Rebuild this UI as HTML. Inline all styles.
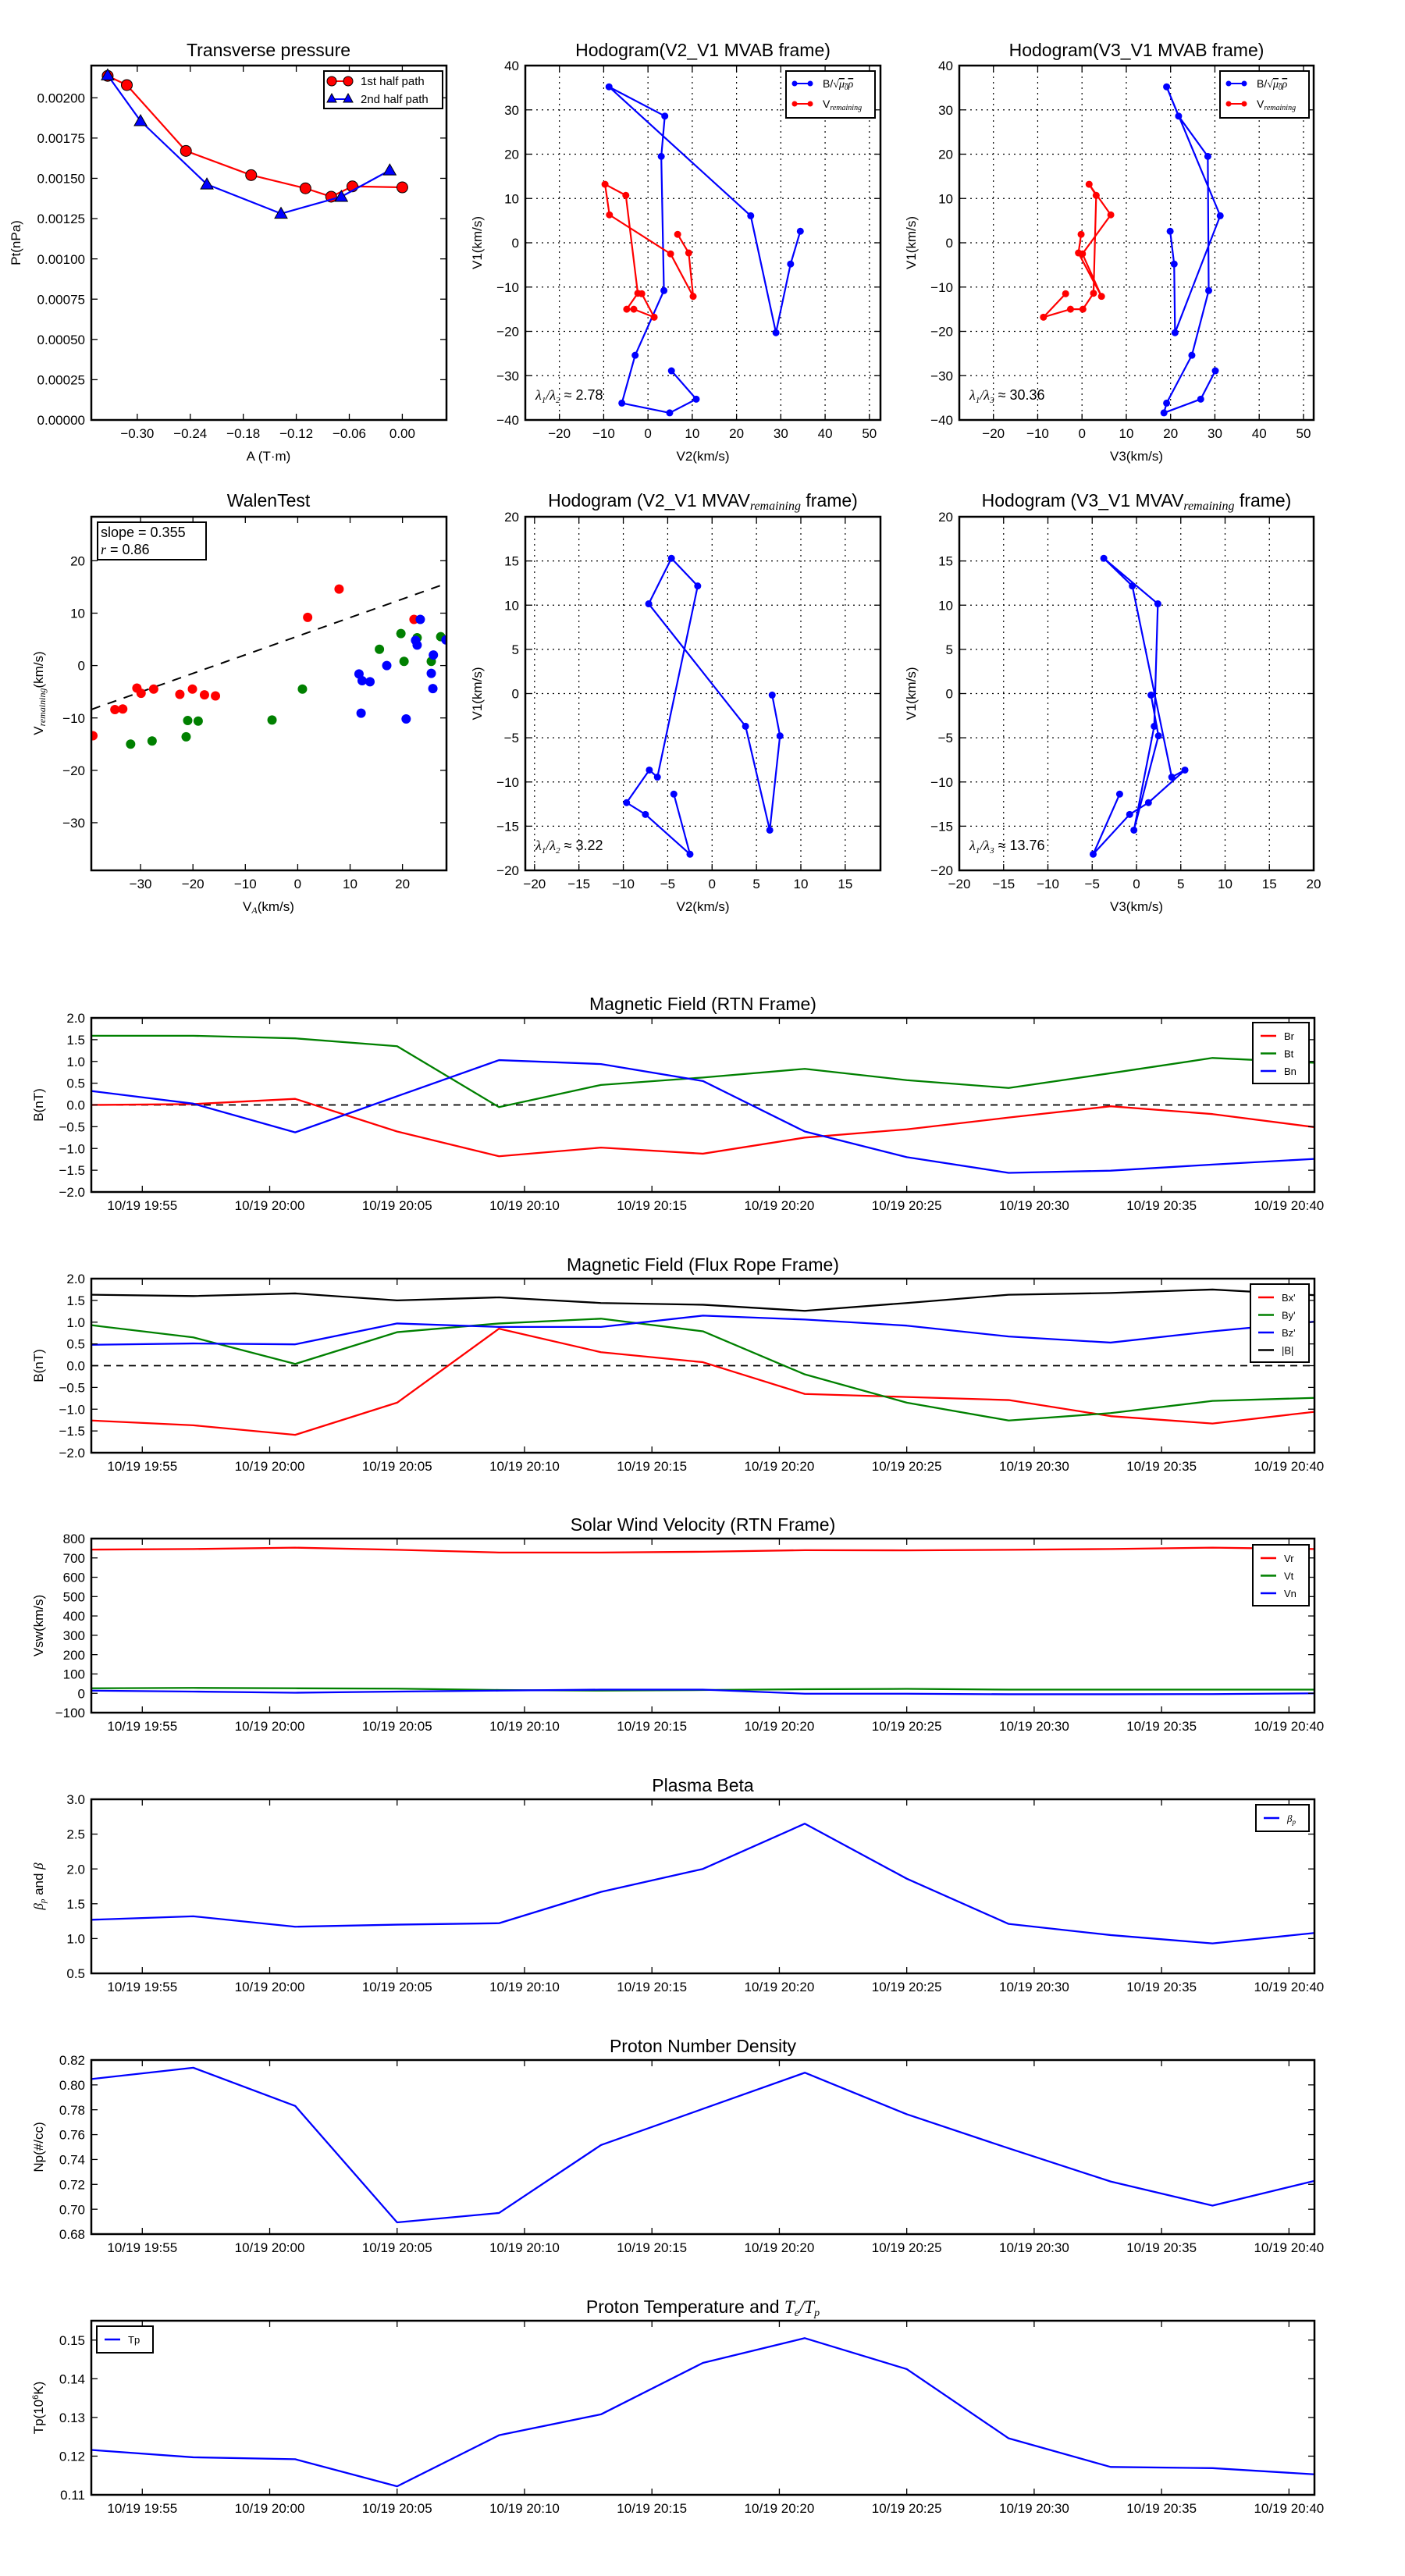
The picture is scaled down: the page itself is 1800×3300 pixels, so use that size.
<!DOCTYPE html>
<html><head><meta charset="utf-8"><title>Flux rope analysis</title>
<style>
html,body{margin:0;padding:0;background:#fff;}
svg{display:block;font-family:"Liberation Sans","DejaVu Sans",sans-serif;}
</style></head>
<body>
<svg id="fig" width="1800" height="3300" viewBox="0 0 1800 3300" xmlns="http://www.w3.org/2000/svg"></svg>
<script>
// ---------- DATA ----------
// Transverse pressure
const ptA1 = [-0.3335,-0.3118,-0.2449,-0.1711,-0.1096,-0.0805,-0.0565,0.0];
const ptP1 = [0.002136,0.002079,0.00167,0.00152,0.001438,0.001386,0.00145,0.001444];
const ptA2 = [-0.3335,-0.2963,-0.2212,-0.1373,-0.069,-0.0142];
const ptP2 = [0.00214,0.001856,0.001463,0.001281,0.001386,0.00155];
// Hodogram MVAB (B/sqrt(mu0 rho))
const hbV1 = [2.6,-4.8,-20.3,6.1,35.2,28.6,19.5,-10.8,-25.4,-36.2,-38.4,-35.3,-28.9];
const hbV2 = [34.4,32.2,28.9,23.2,-8.8,3.8,3.0,3.6,-2.9,-5.9,4.9,10.9,5.3];
const hbV3 = [19.9,20.8,21.0,31.2,19.1,21.8,28.4,28.6,24.8,19.1,18.5,26.8,30.1];
// Hodogram MVAB (V remaining)
const hrV1 = [1.9,-2.3,-12.1,-2.5,6.3,13.2,10.7,-11.4,-15.0,-15.0,-16.8,-11.5];
const hrV2 = [6.7,9.2,10.2,5.1,-8.7,-9.7,-5.0,-2.3,-4.8,-3.2,1.4,-1.4];
const hrV3 = [-0.2,-0.8,4.4,0.1,6.5,1.6,3.2,2.6,0.2,-2.6,-8.7,-3.7];
// Hodogram MVAV remaining
const hmV1 = [-0.17,-4.78,-15.45,-3.7,10.15,15.3,12.17,-9.45,-8.65,-12.34,-13.67,-18.17,-11.37];
const hmV2 = [6.77,7.65,6.5,3.77,-7.14,-4.58,-1.62,-6.16,-7.07,-9.63,-7.51,-2.49,-4.31];
const hmV3 = [1.64,2.48,-0.29,2.0,2.41,-3.69,-0.47,3.98,5.47,1.35,-0.77,-4.89,-1.9];
// Walen test
const wRedX = [-39.1,-34.9,-33.4,-30.7,-29.9,-27.5,-22.5,-20.1,-17.8,-15.7,1.9,7.9,22.2];
const wRedY = [-13.4,-8.4,-8.3,-4.3,-5.3,-4.5,-5.5,-4.5,-5.6,-5.8,9.2,14.6,8.8];
const wGreenX = [-31.9,-27.8,-21.3,-21.0,-19.0,-4.9,0.9,15.6,19.7,20.3,22.8,25.5,27.3];
const wGreenY = [-15.0,-14.4,-13.6,-10.5,-10.6,-10.4,-4.5,3.1,6.1,0.8,5.3,0.8,5.5];
const wBlueX = [11.7,12.3,13.8,12.1,17.0,20.7,22.5,22.8,23.4,25.9,25.5,25.8,28.3];
const wBlueY = [-1.6,-2.9,-3.1,-9.1,0.0,-10.2,4.8,3.9,8.8,2.0,-1.5,-4.4,4.9];
const wSlope = [0.355];
const wIntercept = [5.6];
// Time series (minutes after 19:53)
const tMin = [0,4,8,12,16,20,24,28,32,36,40,44,48];
const tickMin = [2,7,12,17,22,27,32,37,42,47];
const tickLab = ['10/19 19:55','10/19 20:00','10/19 20:05','10/19 20:10','10/19 20:15','10/19 20:20','10/19 20:25','10/19 20:30','10/19 20:35','10/19 20:40'];
const Br = [0.0,0.02,0.14,-0.61,-1.18,-0.98,-1.12,-0.75,-0.56,-0.29,-0.03,-0.21,-0.51];
const Bt = [1.59,1.59,1.53,1.35,-0.05,0.46,0.63,0.83,0.57,0.39,0.73,1.08,0.97];
const Bn = [0.32,0.03,-0.63,0.2,1.03,0.94,0.55,-0.61,-1.2,-1.56,-1.51,-1.37,-1.24];
const Bxp = [-1.26,-1.37,-1.59,-0.85,0.85,0.31,0.08,-0.65,-0.72,-0.79,-1.16,-1.33,-1.06];
const Byp = [0.93,0.65,0.04,0.77,0.97,1.08,0.79,-0.2,-0.85,-1.26,-1.09,-0.81,-0.74];
const Bzp = [0.48,0.51,0.49,0.97,0.89,0.89,1.15,1.06,0.92,0.67,0.53,0.79,1.01];
const Bmag = [1.63,1.6,1.66,1.5,1.57,1.44,1.4,1.26,1.44,1.63,1.67,1.75,1.62];
const Vr = [743,746,753,742,728,728,732,740,739,742,746,753,746];
const Vt = [26,28,26,24,17,14,17,21,23,19,19,19,19];
const Vn = [14,9,3,9,14,19,19,-2,-2,-5,-5,-4,0];
const beta = [1.27,1.32,1.17,1.2,1.22,1.67,2.0,2.65,1.86,1.21,1.05,0.93,1.08];
const Np = [0.8047,0.8138,0.7831,0.6894,0.697,0.7516,0.7807,0.8098,0.7764,0.749,0.7223,0.7029,0.7228];
const Tp = [0.1216,0.1197,0.1192,0.1122,0.1254,0.1308,0.1441,0.1505,0.1425,0.1246,0.1172,0.1169,0.1153];

// ---------- HELPERS ----------
const NS='http://www.w3.org/2000/svg';
const svg=document.getElementById('fig');
function mk(tag,attrs,parent){const e=document.createElementNS(NS,tag);for(const k in attrs)e.setAttribute(k,attrs[k]);(parent||svg).appendChild(e);return e;}
function fmtMinus(s){return s.replace('-','\u2212');}
function scale(d0,d1,r0,r1){return v=>r0+(v-d0)/(d1-d0)*(r1-r0);}

function makeAxes(name,L,T,W,H,xlim,ylim){
  const g=mk('g',{});
  
  
  return {g,L,T,W,H,x:scale(xlim[0],xlim[1],L,L+W),y:scale(ylim[0],ylim[1],T+H,T)};
}
function grid(ax,xt,yt){
  xt.forEach(v=>{const l=mk('line',{x1:ax.x(v),x2:ax.x(v),y1:ax.T,y2:ax.T+ax.H,stroke:'#000','stroke-width':1.2,'stroke-dasharray':'2,5'},ax.g);
    
    });
  yt.forEach(v=>{const l=mk('line',{x1:ax.L,x2:ax.L+ax.W,y1:ax.y(v),y2:ax.y(v),stroke:'#000','stroke-width':1.2,'stroke-dasharray':'2,5'},ax.g);
    
    });
}
function ticks(ax,xt,xl,yt,yl,fs){
  fs=fs||17;
  xt.forEach((v,i)=>{const X=ax.x(v);
    mk('line',{x1:X,x2:X,y1:ax.T+ax.H,y2:ax.T+ax.H-8,stroke:'#000','stroke-width':1.3},ax.g);
    mk('line',{x1:X,x2:X,y1:ax.T,y2:ax.T+8,stroke:'#000','stroke-width':1.3},ax.g);
    const t=mk('text',{x:X,y:ax.T+ax.H+fs+6,'font-size':fs,'text-anchor':'middle',fill:'#000'},ax.g);
    
    
    t.textContent=xl[i];});
  yt.forEach((v,i)=>{const Y=ax.y(v);
    mk('line',{x1:ax.L,x2:ax.L+8,y1:Y,y2:Y,stroke:'#000','stroke-width':1.3},ax.g);
    mk('line',{x1:ax.L+ax.W,x2:ax.L+ax.W-8,y1:Y,y2:Y,stroke:'#000','stroke-width':1.3},ax.g);
    const t=mk('text',{x:ax.L-8,y:Y+fs*0.36,'font-size':fs,'text-anchor':'end',fill:'#000'},ax.g);
    
    
    t.textContent=yl[i];});
}
function frame(ax){
  const r=mk('rect',{x:ax.L,y:ax.T,width:ax.W,height:ax.H,fill:'none',stroke:'#000','stroke-width':2.5},ax.g);
  
  
}
function clip(ax,id){
  const d=mk('clipPath',{id:id},ax.g);
  mk('rect',{x:ax.L,y:ax.T,width:ax.W,height:ax.H},d);
  const g=mk('g',{'clip-path':'url(#'+id+')'},ax.g);
  
  
  return g;
}
function line(ax,g,xs,ys,color,name,w){
  const p=mk('polyline',{points:xs.map((v,i)=>ax.x(v)+','+ax.y(ys[i])).join(' '),fill:'none',stroke:color,'stroke-width':w||2.2,'stroke-linejoin':'round'},g);
  
  
}
function dots(ax,g,xs,ys,color,name,r,stroke){
  xs.forEach((v,i)=>{const c=mk('circle',{cx:ax.x(v),cy:ax.y(ys[i]),r:r,fill:color,stroke:stroke||'none','stroke-width':1},g);
    
    });
}
function text(x,y,s,fs,anchor,name,rot,parent){
  const t=mk('text',{x:x,y:y,'font-size':fs,'text-anchor':anchor||'middle',fill:'#000'},parent);
  if(rot)t.setAttribute('transform','rotate(-90 '+x+' '+y+')');
  
  
  t.textContent=s;return t;
}
function range(a,b,s){const r=[];for(let v=a;v<=b+1e-9;v+=s)r.push(+v.toFixed(6));return r;}

// ---------- PLOT 1: Transverse pressure ----------
(function(){
  const ax=makeAxes('transverse-pressure-chart',117,84,455,454,[-0.352,0.05],[0,0.0022]);
  const xt=range(-0.30,0,0.06), yt=range(0,0.002,0.00025);
  const g=clip(ax,'c1');
  line(ax,g,ptA1,ptP1,'#ff0000','first-half-line',2.2);
  dots(ax,g,ptA1,ptP1,'#ff0000','first-half-point',7,'#000');
  line(ax,g,ptA2,ptP2,'#0000ff','second-half-line',2.2);
  ptA2.forEach((v,i)=>{const X=ax.x(v),Y=ax.y(ptP2[i]);
    const p=mk('polygon',{points:(X)+','+(Y-8)+' '+(X-8)+','+(Y+6)+' '+(X+8)+','+(Y+6),fill:'#0000ff',stroke:'#000','stroke-width':1},g);
    
    });
  ticks(ax,xt,xt.map(v=>fmtMinus(v.toFixed(2))),yt,yt.map(v=>v.toFixed(5)));
  frame(ax);
  text(344,72,'Transverse pressure',23,'middle','chart-title');
  text(344,590,'A (T\u00B7m)',17,'middle','x-axis-title');
  text(26,311,'Pt(nPa)',17,'middle','y-axis-title',true);
  const lg=mk('g',{});
  
  
  mk('rect',{x:415,y:91,width:152,height:48,fill:'#fff',stroke:'#000','stroke-width':2},lg);
  mk('line',{x1:425,x2:446,y1:104,y2:104,stroke:'#ff0000','stroke-width':2},lg);
  mk('circle',{cx:425,cy:104,r:6,fill:'#ff0000',stroke:'#000'},lg);
  mk('circle',{cx:446,cy:104,r:6,fill:'#ff0000',stroke:'#000'},lg);
  text(462,109,'1st half path',15,'start','legend-entry-first',false,lg);
  mk('line',{x1:425,x2:446,y1:127,y2:127,stroke:'#0000ff','stroke-width':2},lg);
  mk('polygon',{points:'425,120 419,131 431,131',fill:'#0000ff',stroke:'#000'},lg);
  mk('polygon',{points:'446,120 440,131 452,131',fill:'#0000ff',stroke:'#000'},lg);
  text(462,132,'2nd half path',15,'start','legend-entry-second',false,lg);
})();

// ---------- Hodogram helper ----------
function hodo(name,L,T,W,H,xlim,ylim,xt,yt,series,title,xlab,ylab,ratio,legend,clipId){
  const ax=makeAxes(name,L,T,W,H,xlim,ylim);
  grid(ax,xt.filter(v=>ax.x(v)>L+2&&ax.x(v)<L+W-2),yt.filter(v=>ax.y(v)>T+2&&ax.y(v)<T+H-2));
  const g=clip(ax,clipId);
  series.forEach(s=>{line(ax,g,s.x,s.y,s.c,s.n+'-line',2.2);dots(ax,g,s.x,s.y,s.c,s.n+'-point',4.5);});
  ticks(ax,xt,xt.map(v=>fmtMinus(String(v))),yt,yt.map(v=>fmtMinus(String(v))));
  frame(ax);
  title(ax);
  text(L+W/2,T+H+52,xlab,17,'middle','x-axis-title');
  text(L-56,T+H/2,ylab,17,'middle','y-axis-title',true);
  const r=mk('text',{x:L+13,y:T+H-26,'font-size':18,fill:'#000'},ax.g);
  
  
  r.innerHTML=ratio;
  if(legend){
    const lg=mk('g',{});
    
    
    const lx=legend;
    mk('rect',{x:lx,y:91,width:114,height:60,fill:'#fff',stroke:'#000','stroke-width':2},lg);
    mk('line',{x1:lx+11,x2:lx+31,y1:107,y2:107,stroke:'#0000ff','stroke-width':2},lg);
    mk('circle',{cx:lx+11,cy:107,r:3.5,fill:'#0000ff'},lg);mk('circle',{cx:lx+31,cy:107,r:3.5,fill:'#0000ff'},lg);
    const t1=mk('text',{x:lx+47,y:112,'font-size':14,fill:'#000'},lg);
    
    
    t1.innerHTML='B/<tspan font-family="Liberation Serif,serif">\u221A</tspan><tspan font-family="Liberation Serif,serif" font-style="italic" text-decoration="overline">\u03BC<tspan font-size="9" dy="3">0</tspan><tspan dy="-3">\u03C1</tspan></tspan>';
    mk('line',{x1:lx+11,x2:lx+31,y1:133,y2:133,stroke:'#ff0000','stroke-width':2},lg);
    mk('circle',{cx:lx+11,cy:133,r:3.5,fill:'#ff0000'},lg);mk('circle',{cx:lx+31,cy:133,r:3.5,fill:'#ff0000'},lg);
    const t2=mk('text',{x:lx+47,y:138,'font-size':14,fill:'#000'},lg);
    
    
    t2.innerHTML='V<tspan font-size="10" dy="3" font-style="italic" font-family="Liberation Serif,serif">remaining</tspan>';
  }
}
const lam12='<tspan font-family="Liberation Serif,serif" font-style="italic">\u03BB<tspan font-size="11" dy="4">1</tspan><tspan dy="-4">/\u03BB</tspan><tspan font-size="11" dy="4">2</tspan></tspan><tspan dy="-4"> \u2248 </tspan>';
const lam13='<tspan font-family="Liberation Serif,serif" font-style="italic">\u03BB<tspan font-size="11" dy="4">1</tspan><tspan dy="-4">/\u03BB</tspan><tspan font-size="11" dy="4">3</tspan></tspan><tspan dy="-4"> \u2248 </tspan>';

hodo('hodogram-v2-v1-mvab',673,84,455,454,[-27.7,52.5],[-40,40],range(-20,50,10),range(-40,40,10),
  [{x:hbV2,y:hbV1,c:'#0000ff',n:'b-alfven'},{x:hrV2,y:hrV1,c:'#ff0000',n:'v-remaining'}],
  ax=>text(ax.L+ax.W/2,72,'Hodogram(V2_V1 MVAB frame)',23,'middle','chart-title'),'V2(km/s)','V1(km/s)',lam12+'2.78',1007,'c2');
hodo('hodogram-v3-v1-mvab',1229,84,454,454,[-27.7,52.3],[-40,40],range(-20,50,10),range(-40,40,10),
  [{x:hbV3,y:hbV1,c:'#0000ff',n:'b-alfven'},{x:hrV3,y:hrV1,c:'#ff0000',n:'v-remaining'}],
  ax=>text(ax.L+ax.W/2,72,'Hodogram(V3_V1 MVAB frame)',23,'middle','chart-title'),'V3(km/s)','V1(km/s)',lam13+'30.36',1563,'c3');

function subTitle(prefix,x,y){
  const t=mk('text',{x:x,y:y,'font-size':23,'text-anchor':'middle',fill:'#000'});
  
  
  t.innerHTML=prefix+'<tspan font-size="16" dy="4" font-style="italic" font-family="Liberation Serif,serif">remaining</tspan><tspan dy="-4"> frame)</tspan>';
}
hodo('hodogram-v2-v1-mvav',673,662,455,453,[-21.04,18.97],[-20,20],range(-20,15,5),range(-20,20,5),
  [{x:hmV2,y:hmV1,c:'#0000ff',n:'b-alfven'}],
  ax=>subTitle('Hodogram (V2_V1 MVAV',ax.L+ax.W/2,649),'V2(km/s)','V1(km/s)',lam12+'3.22',null,'c5');
hodo('hodogram-v3-v1-mvav',1229,662,454,453,[-20,20],[-20,20],range(-20,20,5),range(-20,20,5),
  [{x:hmV3,y:hmV1,c:'#0000ff',n:'b-alfven'}],
  ax=>subTitle('Hodogram (V3_V1 MVAV',ax.L+ax.W/2,649),'V3(km/s)','V1(km/s)',lam13+'13.76',null,'c6');

// ---------- Walen test ----------
(function(){
  const ax=makeAxes('walen-test-chart',117,662,455,453,[-39.4,28.4],[-39.1,28.4]);
  const g=clip(ax,'c4');
  const lx=[-39.4,28.4];
  const dl=mk('line',{x1:ax.x(lx[0]),y1:ax.y(wSlope[0]*lx[0]+wIntercept[0]),x2:ax.x(lx[1]),y2:ax.y(wSlope[0]*lx[1]+wIntercept[0]),stroke:'#000','stroke-width':2,'stroke-dasharray':'12,10'},g);
  
  
  dots(ax,g,wRedX,wRedY,'#ff0000','walen-red-point',6);
  dots(ax,g,wGreenX,wGreenY,'#008000','walen-green-point',6);
  dots(ax,g,wBlueX,wBlueY,'#0000ff','walen-blue-point',6);
  const xt=range(-30,20,10), yt=range(-30,20,10);
  ticks(ax,xt,xt.map(v=>fmtMinus(String(v))),yt,yt.map(v=>fmtMinus(String(v))));
  frame(ax);
  text(344,649,'WalenTest',23,'middle','chart-title');
  const xl=mk('text',{x:344,y:1167,'font-size':17,'text-anchor':'middle',fill:'#000'});
  
  
  xl.innerHTML='V<tspan font-size="12" dy="3" font-style="italic" font-family="Liberation Serif,serif">A</tspan><tspan dy="-3">(km/s)</tspan>';
  const yl=mk('text',{x:55,y:888,'font-size':17,'text-anchor':'middle',fill:'#000',transform:'rotate(-90 55 888)'});
  
  
  yl.innerHTML='V<tspan font-size="12" dy="3" font-style="italic" font-family="Liberation Serif,serif">remaining</tspan><tspan dy="-3">(km/s)</tspan>';
  const box=mk('g',{});
  
  
  mk('rect',{x:125,y:669,width:139,height:48,fill:'#fff',stroke:'#000','stroke-width':2},box);
  text(129,688,'slope = 0.355',18,'start','slope-label',false,box);
  const r=mk('text',{x:129,y:710,'font-size':18,fill:'#000'},box);
  
  
  r.innerHTML='<tspan font-style="italic" font-family="Liberation Serif,serif">r</tspan> = 0.86';
})();

// ---------- Time series ----------
function ts(name,T,ylim,yt,yfmt,series,title,ylab,legend,zero){
  const L=117,W=1567,H=223;
  const ax=makeAxes(name,L,T,W,H,[0,48],ylim);
  const g=clip(ax,'c'+name);
  if(zero){const z=mk('line',{x1:L,x2:L+W,y1:ax.y(0),y2:ax.y(0),stroke:'#000','stroke-width':1.8,'stroke-dasharray':'9,7'},g);
    
    }
  series.forEach(s=>line(ax,g,tMin,s.v,s.c,s.n+'-line',2.3));
  ticks(ax,tickMin,tickLab,yt,yt.map(yfmt),17);
  frame(ax);
  const tt=mk('text',{x:L+W/2,y:T-10,'font-size':23,'text-anchor':'middle',fill:'#000'});
  
  
  tt.innerHTML=title;
  const yl=mk('text',{x:55,y:T+H/2,'font-size':17,'text-anchor':'middle',fill:'#000',transform:'rotate(-90 55 '+(T+H/2)+')'});
  
  
  yl.innerHTML=ylab;
  const lg=mk('g',{});
  
  
  const n=series.length, bx=legend.x, by=T+legend.dy, bw=legend.w, bh=12+n*22;
  mk('rect',{x:bx,y:by,width:bw,height:bh,fill:'#fff',stroke:'#000','stroke-width':2},lg);
  series.forEach((s,i)=>{const yy=by+17+i*22.5;
    mk('line',{x1:bx+10,x2:bx+30,y1:yy,y2:yy,stroke:s.c,'stroke-width':2.5},lg);
    const t=mk('text',{x:bx+40,y:yy+5,'font-size':13,fill:'#000'},lg);
    
    
    t.innerHTML=s.label;});
}
const f1=v=>fmtMinus(v.toFixed(1)), f2=v=>fmtMinus(v.toFixed(2)), f0=v=>fmtMinus(String(v));
ts('magnetic-field-rtn-chart',1304,[-2,2],range(-2,2,0.5),f1,
  [{v:Br,c:'#ff0000',n:'br',label:'Br'},{v:Bt,c:'#008000',n:'bt',label:'Bt'},{v:Bn,c:'#0000ff',n:'bn',label:'Bn'}],
  'Magnetic Field (RTN Frame)','B(nT)',{x:1605,dy:6,w:72},true);
ts('magnetic-field-flux-rope-chart',1638,[-2,2],range(-2,2,0.5),f1,
  [{v:Bxp,c:'#ff0000',n:'bx-prime',label:"Bx'"},{v:Byp,c:'#008000',n:'by-prime',label:"By'"},{v:Bzp,c:'#0000ff',n:'bz-prime',label:"Bz'"},{v:Bmag,c:'#000000',n:'b-magnitude',label:'|B|'}],
  'Magnetic Field (Flux Rope Frame)','B(nT)',{x:1602,dy:7,w:75},true);
ts('solar-wind-velocity-chart',1971,[-100,800],range(-100,800,100),f0,
  [{v:Vr,c:'#ff0000',n:'vr',label:'Vr'},{v:Vt,c:'#008000',n:'vt',label:'Vt'},{v:Vn,c:'#0000ff',n:'vn',label:'Vn'}],
  'Solar Wind Velocity (RTN Frame)','Vsw(km/s)',{x:1605,dy:8,w:72},false);
ts('plasma-beta-chart',2305,[0.5,3.0],range(0.5,3.0,0.5),f1,
  [{v:beta,c:'#0000ff',n:'beta-p',label:'<tspan font-style="italic" font-family="Liberation Serif,serif">\u03B2<tspan font-size="9" dy="3">p</tspan></tspan>'}],
  'Plasma Beta','<tspan font-style="italic" font-family="Liberation Serif,serif">\u03B2<tspan font-size="11" dy="3">p</tspan></tspan><tspan dy="-3"> and </tspan><tspan font-style="italic" font-family="Liberation Serif,serif">\u03B2</tspan>',{x:1609,dy:7,w:68},false);
ts('proton-density-chart',2639,[0.68,0.82],range(0.68,0.82,0.02),f2,
  [{v:Np,c:'#0000ff',n:'np',label:'Np'}],
  'Proton Number Density','Np(#/cc)',{x:-500,dy:0,w:1},false);
ts('proton-temperature-chart',2973,[0.11,0.155],range(0.11,0.15,0.01),f2,
  [{v:Tp,c:'#0000ff',n:'tp',label:'Tp'}],
  'Proton Temperature and <tspan font-style="italic" font-family="Liberation Serif,serif">T<tspan font-size="14" dy="4">e</tspan><tspan dy="-4">/T</tspan><tspan font-size="14" dy="4">p</tspan></tspan>','Tp(10<tspan font-size="11" dy="-6">6</tspan><tspan dy="6">K)</tspan>',{x:124,dy:7,w:72},false);
</script>
</body></html>
